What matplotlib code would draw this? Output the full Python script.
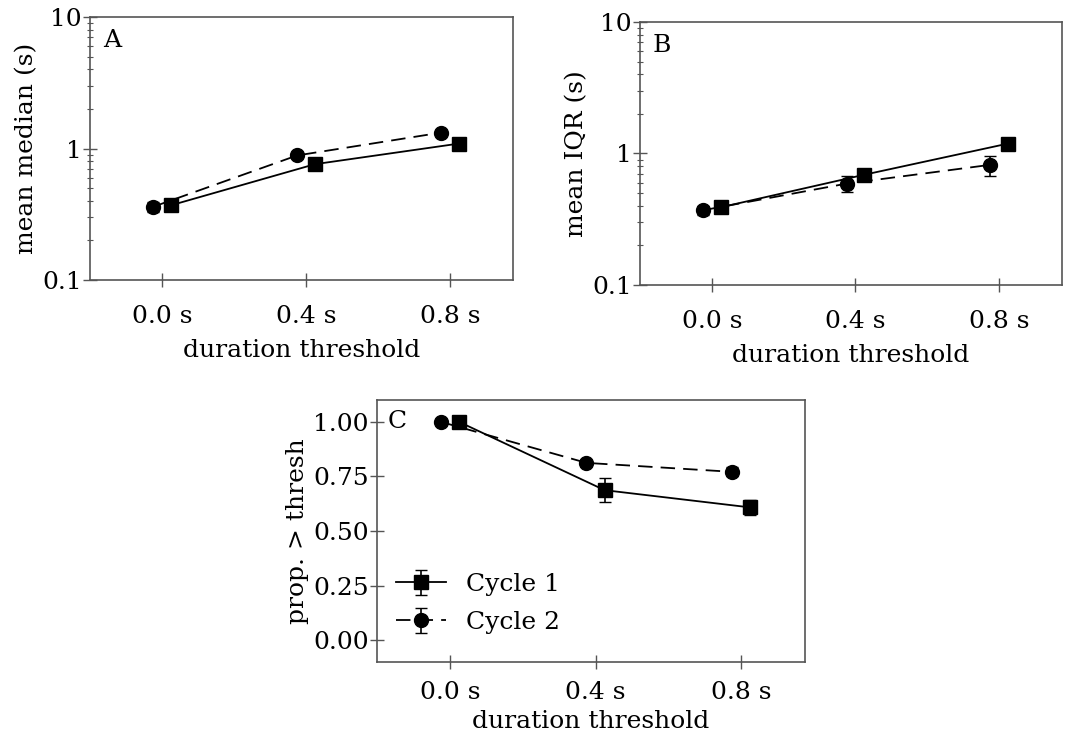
import numpy as np
import matplotlib
matplotlib.use('Agg')
import matplotlib.pyplot as plt

plt.rcParams['font.family'] = 'DejaVu Serif'
plt.rcParams['font.size'] = 18

# duration thresholds (s); the two cycles are nudged apart on the x axis
thresh = np.array([0.0, 0.4, 0.8])
offset = 0.025

# panel A: mean median (s)
med_c1 = [0.37, 0.76, 1.09]
med_c1_err = [0.02, 0.05, 0.06]
med_c2 = [0.36, 0.885, 1.32]
med_c2_err = [0.03, 0.04, 0.05]

# panel B: mean IQR (s)
iqr_c1 = [0.39, 0.69, 1.19]
iqr_c1_err = [0.02, 0.04, 0.06]
iqr_c2 = [0.37, 0.59, 0.82]
iqr_c2_err = [0.03, 0.08, 0.14]

# panel C: proportion above threshold
prop_c1 = [1.0, 0.687, 0.608]
prop_c1_err = [0.0, 0.055, 0.035]
prop_c2 = [1.0, 0.812, 0.771]
prop_c2_err = [0.0, 0.015, 0.02]

W, H = 1083, 740
fig = plt.figure(figsize=(W / 100, H / 100), dpi=100)


def px_axes(left, top, right, bottom):
    return fig.add_axes([left / W, 1 - bottom / H, (right - left) / W, (bottom - top) / H])


def draw(ax, c1, c1e, c2, c2e, letter, xpad=13, labelpad=8):
    ax.errorbar(thresh + offset, c1, yerr=c1e, fmt='s-', color='k', ms=10,
                lw=1.3, capsize=4, elinewidth=1.2, label='Cycle 1')
    ax.errorbar(thresh - offset, c2, yerr=c2e, fmt='o--', color='k', ms=10,
                lw=1.3, capsize=4, elinewidth=1.2, dashes=(8, 4.5), label='Cycle 2')
    ax.set_xlim(-0.2, 0.975)
    ax.set_xticks(thresh)
    ax.set_xticklabels([f'{t:.1f} s' for t in thresh])
    ax.set_xlabel('duration threshold', labelpad=labelpad)
    ax.tick_params(which='major', direction='inout', length=10, width=1, color='#555555')
    ax.tick_params(which='minor', direction='inout', length=5, width=0.8, color='#555555')
    ax.tick_params(axis='x', pad=xpad)
    ax.tick_params(axis='y', pad=1)
    ax.tick_params(top=False, right=False)
    for s in ax.spines.values():
        s.set_color('#555555')
        s.set_linewidth(1.2)
    return ax.text(0.03, 0.955, letter, transform=ax.transAxes, va='top', ha='left')


axA = px_axes(90, 17, 513, 280)
draw(axA, med_c1, med_c1_err, med_c2, med_c2_err, 'A')
axA.set_yscale('log')
axA.set_ylim(0.1, 10)
axA.set_yticks([0.1, 1, 10])
axA.set_yticklabels(['0.1', '1', '10'])
axA.set_ylabel('mean median (s)', labelpad=3)

axB = px_axes(640, 22, 1062, 285)
draw(axB, iqr_c1, iqr_c1_err, iqr_c2, iqr_c2_err, 'B')
axB.set_yscale('log')
axB.set_ylim(0.1, 10)
axB.set_yticks([0.1, 1, 10])
axB.set_yticklabels(['0.1', '1', '10'])
axB.set_ylabel('mean IQR (s)', labelpad=3)

axC = px_axes(377, 400, 805, 662)
lab = draw(axC, prop_c1, prop_c1_err, prop_c2, prop_c2_err, 'C', xpad=9, labelpad=4)
lab.set_position((0.025, 0.917))
lab.set_va('center')
axC.set_ylim(-0.1, 1.1)
axC.set_yticks([0.0, 0.25, 0.5, 0.75, 1.0])
axC.set_yticklabels(['0.00', '0.25', '0.50', '0.75', '1.00'])
axC.set_ylabel('prop. > thresh', labelpad=3)
axC.legend(loc='lower left', frameon=False, handlelength=2.0, handletextpad=0.8,
           labelspacing=0.6, borderaxespad=0.2, bbox_to_anchor=(0.01, 0.05))

fig.savefig('out.png', dpi=100)
